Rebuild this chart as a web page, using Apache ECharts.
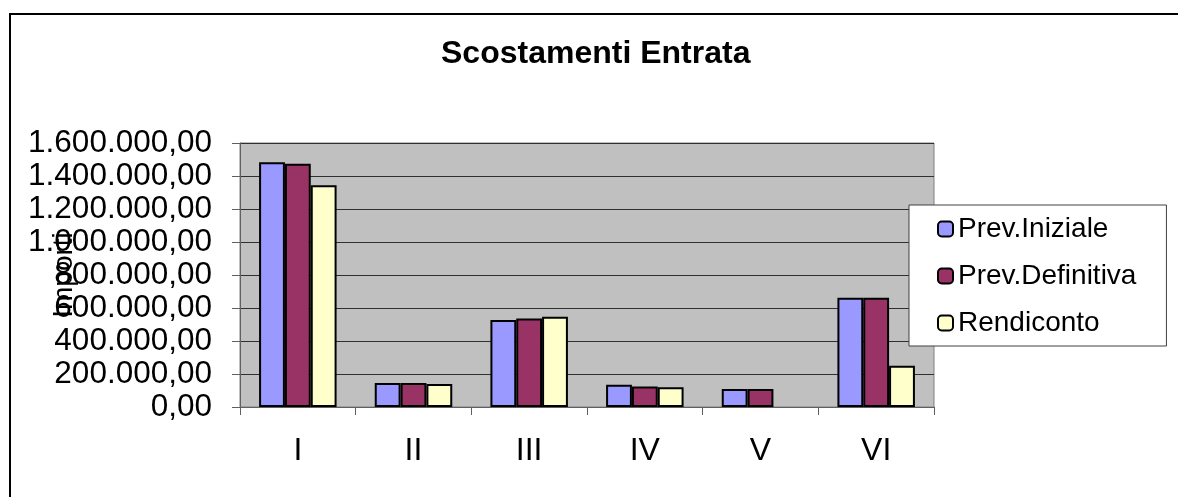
<!DOCTYPE html>
<html>
<head>
<meta charset="utf-8">
<script src="https://cdn.jsdelivr.net/npm/echarts@6/dist/echarts.min.js"></script>
<style>
html,body{margin:0;padding:0;background:#fff;}
#chart{width:1178px;height:497px;}
</style>
</head>
<body>
<div id="chart"></div>
<script>
const categories = ['I', 'II', 'III', 'IV', 'V', 'VI'];
const prevIniziale = [1483000, 145000, 527000, 135000, 109000, 662000];
const prevDefinitiva = [1474000, 145000, 537000, 125000, 109000, 662000];
const rendiconto = [1344000, 139000, 547000, 119000, null, 250000];
const yTicks = [0, 200000, 400000, 600000, 800000, 1000000, 1200000, 1400000, 1600000];
const yTickLabels = ['0,00', '200.000,00', '400.000,00', '600.000,00', '800.000,00',
  '1.000.000,00', '1.200.000,00', '1.400.000,00', '1.600.000,00'];
const seriesNames = ['Prev.Iniziale', 'Prev.Definitiva', 'Rendiconto'];
const seriesColors = ['#9999ff', '#993366', '#ffffcc'];

const chart = echarts.init(document.getElementById('chart'), null, {renderer: 'canvas'});
const FONT = '"Liberation Sans", Arial, sans-serif';

const seriesData = [prevIniziale, prevDefinitiva, rendiconto];

chart.setOption({
  animation: false,
  backgroundColor: '#ffffff',
  textStyle: {fontFamily: FONT, color: '#000'},
  title: {
    text: 'Scostamenti Entrata',
    left: 441,
    top: 38,
    padding: 0,
    textStyle: {fontFamily: FONT, fontSize: 32, fontWeight: 'bold', color: '#000'}
  },
  legend: {
    orient: 'vertical',
    left: 909,
    top: 205,
    data: seriesNames,
    itemWidth: 15,
    itemHeight: 15,
    itemGap: 19,
    padding: [10, 30, 9, 28],
    backgroundColor: '#ffffff',
    borderColor: '#404040',
    borderWidth: 1,
    borderRadius: 0,
    textStyle: {fontFamily: FONT, fontSize: 28, color: '#000'}
  },
  grid: {
    left: 240,
    right: 244,
    top: 143,
    bottom: 90,
    show: true,
    backgroundColor: '#c0c0c0',
    borderColor: '#808080',
    borderWidth: 1,
    containLabel: false,
    outerBoundsMode: 'none'
  },
  xAxis: {
    type: 'category',
    data: categories,
    boundaryGap: true,
    axisLine: {lineStyle: {color: '#606060', width: 1}},
    axisTick: {show: true, alignWithLabel: false, length: 8, lineStyle: {color: '#606060'}},
    axisLabel: {fontFamily: FONT, fontSize: 32, color: '#000', margin: 28}
  },
  yAxis: {
    type: 'value',
    min: 0,
    max: 1600000,
    interval: 200000,
    name: 'Importi',
    nameLocation: 'middle',
    nameRotate: 90,
    nameGap: 162,
    nameMoveOverlap: false,
    nameTextStyle: {fontFamily: FONT, fontSize: 28, color: '#000'},
    axisLine: {show: true, lineStyle: {color: '#606060', width: 1}},
    axisTick: {show: true, length: 8, lineStyle: {color: '#606060'}},
    splitLine: {show: true, lineStyle: {color: '#303030', width: 1}},
    axisLabel: {
      fontFamily: FONT, fontSize: 31.5, color: '#000', margin: 28,
      formatter: function (v) {
        const i = yTicks.indexOf(v);
        return i >= 0 ? yTickLabels[i] : '';
      }
    }
  },
  graphic: [{
    type: 'rect',
    shape: {x: 10, y: 14, width: 1200, height: 520},
    style: {fill: null, stroke: '#000', lineWidth: 2},
    silent: true,
    z: 100
  }],
  series: seriesNames.map((name, i) => ({
    name: name,
    type: 'bar',
    data: seriesData[i],
    barGap: '0%',
    barCategoryGap: '33%',
    itemStyle: {color: seriesColors[i], borderColor: '#000', borderWidth: 2}
  }))
});
</script>
</body>
</html>
